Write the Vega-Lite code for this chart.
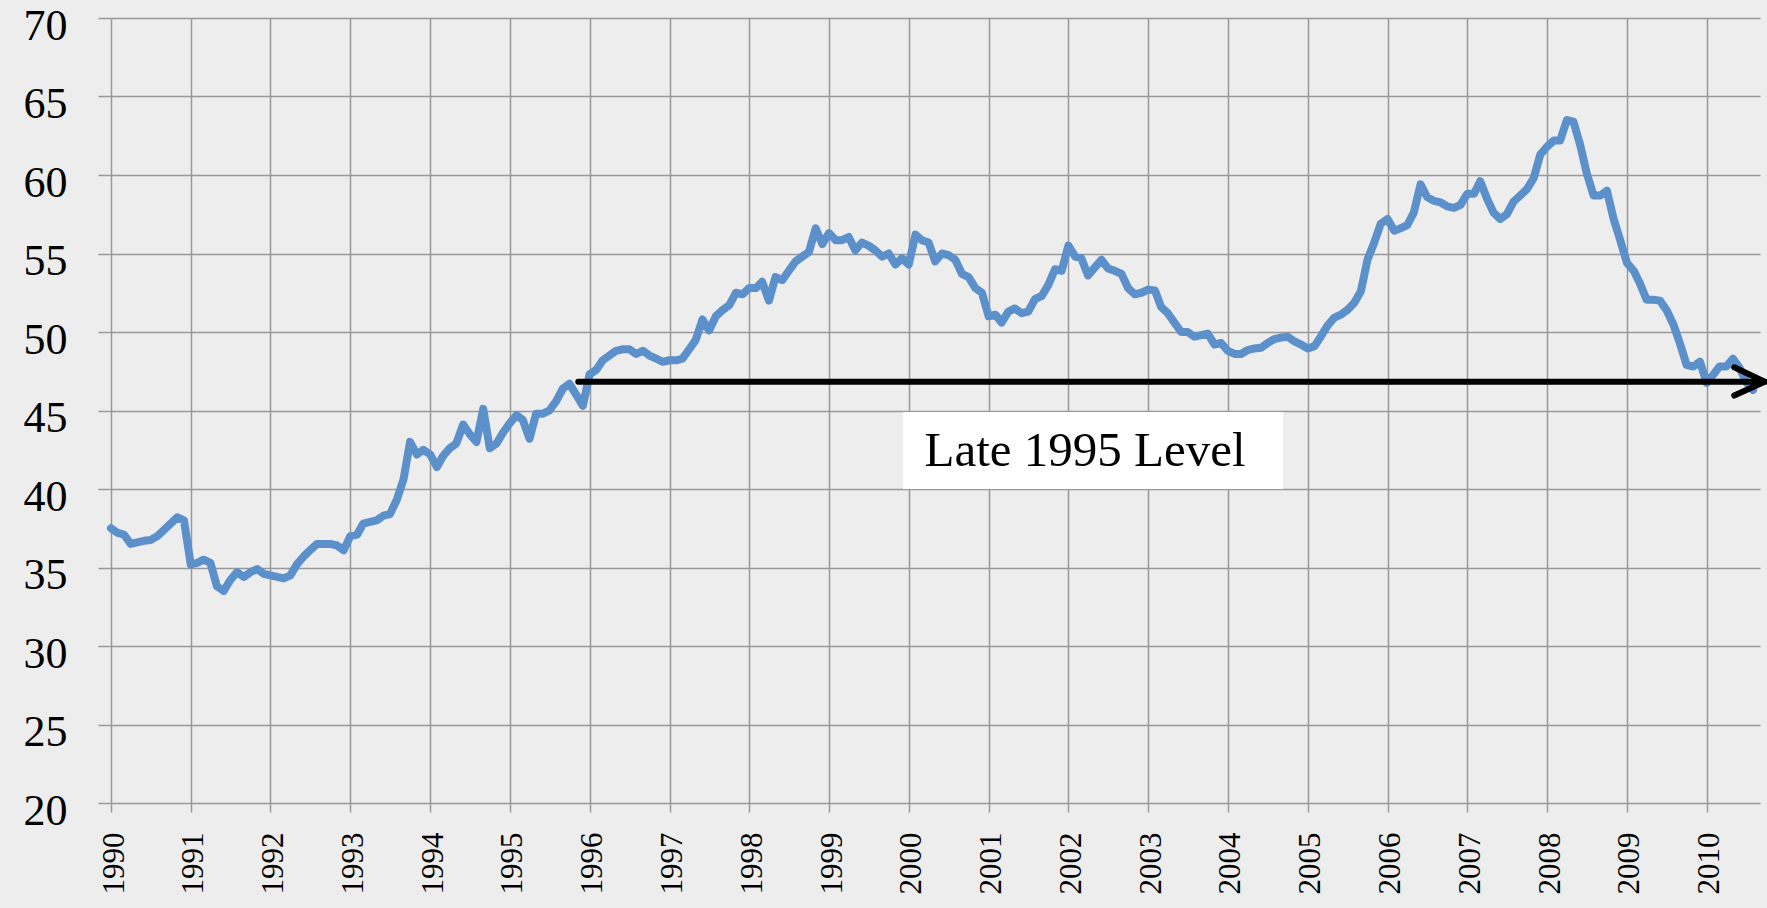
{
  "$schema": "https://vega.github.io/schema/vega-lite/v6.json",
  "autosize": "none",
  "width": 1649,
  "height": 785,
  "padding": {"left": 111, "top": 18, "right": 7, "bottom": 105},
  "background": "#ededed",
  "config": {"view": {"stroke": null}},
  "datasets": {
    "series": [
      {"d":"1990-01","v":37.5},{"d":"1990-02","v":37.2},{"d":"1990-03","v":37.1},{"d":"1990-04","v":36.5},{"d":"1990-05","v":36.6},{"d":"1990-06","v":36.7},{"d":"1990-07","v":36.75},{"d":"1990-08","v":37.0},{"d":"1990-09","v":37.4},{"d":"1990-10","v":37.8},{"d":"1990-11","v":38.2},{"d":"1990-12","v":38.0},
      {"d":"1991-01","v":35.2},{"d":"1991-02","v":35.3},{"d":"1991-03","v":35.5},{"d":"1991-04","v":35.3},{"d":"1991-05","v":33.8},{"d":"1991-06","v":33.5},{"d":"1991-07","v":34.2},{"d":"1991-08","v":34.7},{"d":"1991-09","v":34.4},{"d":"1991-10","v":34.7},{"d":"1991-11","v":34.9},{"d":"1991-12","v":34.6},
      {"d":"1992-01","v":34.5},{"d":"1992-02","v":34.4},{"d":"1992-03","v":34.3},{"d":"1992-04","v":34.5},{"d":"1992-05","v":35.2},{"d":"1992-06","v":35.7},{"d":"1992-07","v":36.1},{"d":"1992-08","v":36.5},{"d":"1992-09","v":36.5},{"d":"1992-10","v":36.5},{"d":"1992-11","v":36.4},{"d":"1992-12","v":36.1},
      {"d":"1993-01","v":37.0},{"d":"1993-02","v":37.1},{"d":"1993-03","v":37.8},{"d":"1993-04","v":37.9},{"d":"1993-05","v":38.0},{"d":"1993-06","v":38.3},{"d":"1993-07","v":38.4},{"d":"1993-08","v":39.3},{"d":"1993-09","v":40.6},{"d":"1993-10","v":43.0},{"d":"1993-11","v":42.2},{"d":"1993-12","v":42.5},
      {"d":"1994-01","v":42.2},{"d":"1994-02","v":41.4},{"d":"1994-03","v":42.1},{"d":"1994-04","v":42.6},{"d":"1994-05","v":42.9},{"d":"1994-06","v":44.1},{"d":"1994-07","v":43.5},{"d":"1994-08","v":43.0},{"d":"1994-09","v":45.1},{"d":"1994-10","v":42.6},{"d":"1994-11","v":42.9},{"d":"1994-12","v":43.6},
      {"d":"1995-01","v":44.2},{"d":"1995-02","v":44.7},{"d":"1995-03","v":44.4},{"d":"1995-04","v":43.2},{"d":"1995-05","v":44.8},{"d":"1995-06","v":44.8},{"d":"1995-07","v":45.0},{"d":"1995-08","v":45.6},{"d":"1995-09","v":46.4},{"d":"1995-10","v":46.7},{"d":"1995-11","v":46.0},{"d":"1995-12","v":45.3},
      {"d":"1996-01","v":47.3},{"d":"1996-02","v":47.6},{"d":"1996-03","v":48.2},{"d":"1996-04","v":48.5},{"d":"1996-05","v":48.8},{"d":"1996-06","v":48.9},{"d":"1996-07","v":48.9},{"d":"1996-08","v":48.6},{"d":"1996-09","v":48.8},{"d":"1996-10","v":48.5},{"d":"1996-11","v":48.3},{"d":"1996-12","v":48.1},
      {"d":"1997-01","v":48.2},{"d":"1997-02","v":48.2},{"d":"1997-03","v":48.3},{"d":"1997-04","v":48.9},{"d":"1997-05","v":49.5},{"d":"1997-06","v":50.8},{"d":"1997-07","v":50.1},{"d":"1997-08","v":51.0},{"d":"1997-09","v":51.4},{"d":"1997-10","v":51.7},{"d":"1997-11","v":52.5},{"d":"1997-12","v":52.4},
      {"d":"1998-01","v":52.8},{"d":"1998-02","v":52.8},{"d":"1998-03","v":53.2},{"d":"1998-04","v":52.0},{"d":"1998-05","v":53.5},{"d":"1998-06","v":53.3},{"d":"1998-07","v":53.9},{"d":"1998-08","v":54.5},{"d":"1998-09","v":54.8},{"d":"1998-10","v":55.1},{"d":"1998-11","v":56.6},{"d":"1998-12","v":55.6},
      {"d":"1999-01","v":56.3},{"d":"1999-02","v":55.85},{"d":"1999-03","v":55.85},{"d":"1999-04","v":56.05},{"d":"1999-05","v":55.2},{"d":"1999-06","v":55.7},{"d":"1999-07","v":55.5},{"d":"1999-08","v":55.2},{"d":"1999-09","v":54.8},{"d":"1999-10","v":55.0},{"d":"1999-11","v":54.3},{"d":"1999-12","v":54.7},
      {"d":"2000-01","v":54.3},{"d":"2000-02","v":56.2},{"d":"2000-03","v":55.85},{"d":"2000-04","v":55.7},{"d":"2000-05","v":54.5},{"d":"2000-06","v":55.0},{"d":"2000-07","v":54.9},{"d":"2000-08","v":54.6},{"d":"2000-09","v":53.7},{"d":"2000-10","v":53.5},{"d":"2000-11","v":52.8},{"d":"2000-12","v":52.5},
      {"d":"2001-01","v":51.0},{"d":"2001-02","v":51.1},{"d":"2001-03","v":50.6},{"d":"2001-04","v":51.3},{"d":"2001-05","v":51.5},{"d":"2001-06","v":51.2},{"d":"2001-07","v":51.3},{"d":"2001-08","v":52.1},{"d":"2001-09","v":52.3},{"d":"2001-10","v":53.0},{"d":"2001-11","v":54.0},{"d":"2001-12","v":53.9},
      {"d":"2002-01","v":55.5},{"d":"2002-02","v":54.8},{"d":"2002-03","v":54.7},{"d":"2002-04","v":53.6},{"d":"2002-05","v":54.1},{"d":"2002-06","v":54.6},{"d":"2002-07","v":54.05},{"d":"2002-08","v":53.9},{"d":"2002-09","v":53.7},{"d":"2002-10","v":52.8},{"d":"2002-11","v":52.4},{"d":"2002-12","v":52.5},
      {"d":"2003-01","v":52.7},{"d":"2003-02","v":52.65},{"d":"2003-03","v":51.6},{"d":"2003-04","v":51.2},{"d":"2003-05","v":50.6},{"d":"2003-06","v":50.0},{"d":"2003-07","v":50.0},{"d":"2003-08","v":49.7},{"d":"2003-09","v":49.8},{"d":"2003-10","v":49.9},{"d":"2003-11","v":49.2},{"d":"2003-12","v":49.3},
      {"d":"2004-01","v":48.8},{"d":"2004-02","v":48.6},{"d":"2004-03","v":48.6},{"d":"2004-04","v":48.85},{"d":"2004-05","v":48.95},{"d":"2004-06","v":49.0},{"d":"2004-07","v":49.3},{"d":"2004-08","v":49.55},{"d":"2004-09","v":49.65},{"d":"2004-10","v":49.7},{"d":"2004-11","v":49.4},{"d":"2004-12","v":49.2},
      {"d":"2005-01","v":48.95},{"d":"2005-02","v":49.1},{"d":"2005-03","v":49.7},{"d":"2005-04","v":50.4},{"d":"2005-05","v":50.9},{"d":"2005-06","v":51.1},{"d":"2005-07","v":51.4},{"d":"2005-08","v":51.85},{"d":"2005-09","v":52.6},{"d":"2005-10","v":54.6},{"d":"2005-11","v":55.7},{"d":"2005-12","v":56.9},
      {"d":"2006-01","v":57.2},{"d":"2006-02","v":56.45},{"d":"2006-03","v":56.6},{"d":"2006-04","v":56.8},{"d":"2006-05","v":57.6},{"d":"2006-06","v":59.4},{"d":"2006-07","v":58.6},{"d":"2006-08","v":58.35},{"d":"2006-09","v":58.25},{"d":"2006-10","v":58.0},{"d":"2006-11","v":57.9},{"d":"2006-12","v":58.1},
      {"d":"2007-01","v":58.8},{"d":"2007-02","v":58.8},{"d":"2007-03","v":59.6},{"d":"2007-04","v":58.5},{"d":"2007-05","v":57.6},{"d":"2007-06","v":57.2},{"d":"2007-07","v":57.5},{"d":"2007-08","v":58.3},{"d":"2007-09","v":58.7},{"d":"2007-10","v":59.1},{"d":"2007-11","v":59.8},{"d":"2007-12","v":61.3},
      {"d":"2008-01","v":61.8},{"d":"2008-02","v":62.2},{"d":"2008-03","v":62.2},{"d":"2008-04","v":63.5},{"d":"2008-05","v":63.4},{"d":"2008-06","v":61.9},{"d":"2008-07","v":60.1},{"d":"2008-08","v":58.7},{"d":"2008-09","v":58.7},{"d":"2008-10","v":59.0},{"d":"2008-11","v":57.2},{"d":"2008-12","v":55.85},
      {"d":"2009-01","v":54.4},{"d":"2009-02","v":53.9},{"d":"2009-03","v":53.1},{"d":"2009-04","v":52.05},{"d":"2009-05","v":52.05},{"d":"2009-06","v":52.0},{"d":"2009-07","v":51.4},{"d":"2009-08","v":50.5},{"d":"2009-09","v":49.25},{"d":"2009-10","v":47.9},{"d":"2009-11","v":47.8},{"d":"2009-12","v":48.1},
      {"d":"2010-01","v":46.75},{"d":"2010-02","v":47.3},{"d":"2010-03","v":47.8},{"d":"2010-04","v":47.8},{"d":"2010-05","v":48.3},{"d":"2010-06","v":47.7},{"d":"2010-07","v":46.8},{"d":"2010-08","v":46.3}
    ],
    "box": [{"d": "1999-12-06", "d2": "2004-09-10", "v": 44.9, "v2": 40.0}],
    "label": [{"d": "2002-03-18", "v": 42.45, "text": "Late 1995 Level"}],
    "arrow": [
      {"g": "shaft", "o": 1, "d": "1995-11-10", "v": 46.83},
      {"g": "shaft", "o": 2, "d": "2010-09-24", "v": 46.83},
      {"g": "head", "o": 1, "d": "2010-05-07", "v": 47.75},
      {"g": "head", "o": 2, "d": "2010-09-24", "v": 46.83},
      {"g": "head", "o": 3, "d": "2010-05-07", "v": 45.95}
    ]
  },
  "layer": [
    {
      "data": {"name": "series"},
      "mark": {"type": "line", "color": "#5b90ca", "strokeWidth": 8, "strokeJoin": "round", "strokeCap": "round", "clip": false},
      "encoding": {
        "x": {
          "field": "d", "type": "temporal", "title": null,
          "scale": {"type": "utc", "domain": [{"year": 1990, "month": 1, "date": 1, "utc": true}, {"year": 2010, "month": 9, "date": 2, "utc": true}]},
          "axis": {
            "values": [
              {"year": 1990, "month": 1, "date": 1, "utc": true},{"year": 1991, "month": 1, "date": 1, "utc": true},{"year": 1992, "month": 1, "date": 1, "utc": true},{"year": 1993, "month": 1, "date": 1, "utc": true},{"year": 1994, "month": 1, "date": 1, "utc": true},{"year": 1995, "month": 1, "date": 1, "utc": true},{"year": 1996, "month": 1, "date": 1, "utc": true},{"year": 1997, "month": 1, "date": 1, "utc": true},{"year": 1998, "month": 1, "date": 1, "utc": true},{"year": 1999, "month": 1, "date": 1, "utc": true},{"year": 2000, "month": 1, "date": 1, "utc": true},{"year": 2001, "month": 1, "date": 1, "utc": true},{"year": 2002, "month": 1, "date": 1, "utc": true},{"year": 2003, "month": 1, "date": 1, "utc": true},{"year": 2004, "month": 1, "date": 1, "utc": true},{"year": 2005, "month": 1, "date": 1, "utc": true},{"year": 2006, "month": 1, "date": 1, "utc": true},{"year": 2007, "month": 1, "date": 1, "utc": true},{"year": 2008, "month": 1, "date": 1, "utc": true},{"year": 2009, "month": 1, "date": 1, "utc": true},{"year": 2010, "month": 1, "date": 1, "utc": true}
            ],
            "format": "%Y",
            "labelAngle": 270,
            "labelFont": "Liberation Serif",
            "labelFontSize": 31,
            "labelColor": "#000000",
            "labelPadding": 20,
            "labelOffset": 3,
            "labelOverlap": false,
            "labelFlush": false,
            "domain": false,
            "grid": true,
            "gridColor": "#999999",
            "gridWidth": 1.5,
            "gridOpacity": 1,
            "ticks": true,
            "tickColor": "#999999",
            "tickWidth": 1.5,
            "tickSize": 9
          }
        },
        "y": {
          "field": "v", "type": "quantitative", "title": null,
          "scale": {"domain": [20, 70], "nice": false, "zero": false},
          "axis": {
            "values": [20, 25, 30, 35, 40, 45, 50, 55, 60, 65, 70],
            "labelFont": "Liberation Serif",
            "labelFontSize": 44,
            "labelColor": "#000000",
            "labelPadding": 31,
            "labelOffset": 8,
            "labelFlush": false,
            "labelOverlap": false,
            "domain": false,
            "grid": true,
            "gridColor": "#999999",
            "gridWidth": 1.5,
            "gridOpacity": 1,
            "ticks": true,
            "tickColor": "#999999",
            "tickWidth": 1.5,
            "tickSize": 13
          }
        }
      }
    },
    {
      "data": {"name": "box"},
      "mark": {"type": "rect", "fill": "#ffffff", "stroke": null},
      "encoding": {
        "x": {"field": "d", "type": "temporal", "title": null, "scale": {"type": "utc", "domain": [{"year": 1990, "month": 1, "date": 1, "utc": true}, {"year": 2010, "month": 9, "date": 2, "utc": true}]}},
        "x2": {"field": "d2"},
        "y": {"field": "v", "type": "quantitative", "title": null, "scale": {"domain": [20, 70], "nice": false, "zero": false}},
        "y2": {"field": "v2"}
      }
    },
    {
      "data": {"name": "label"},
      "mark": {"type": "text", "font": "Liberation Serif", "fontSize": 49, "color": "#000000", "align": "center", "baseline": "middle"},
      "encoding": {
        "x": {"field": "d", "type": "temporal", "title": null, "scale": {"type": "utc", "domain": [{"year": 1990, "month": 1, "date": 1, "utc": true}, {"year": 2010, "month": 9, "date": 2, "utc": true}]}},
        "y": {"field": "v", "type": "quantitative", "title": null, "scale": {"domain": [20, 70], "nice": false, "zero": false}},
        "text": {"field": "text"}
      }
    },
    {
      "data": {"name": "arrow"},
      "mark": {"type": "line", "color": "#000000", "strokeWidth": 6, "strokeCap": "round", "strokeJoin": "miter", "clip": false},
      "encoding": {
        "x": {"field": "d", "type": "temporal", "title": null, "scale": {"type": "utc", "domain": [{"year": 1990, "month": 1, "date": 1, "utc": true}, {"year": 2010, "month": 9, "date": 2, "utc": true}]}},
        "y": {"field": "v", "type": "quantitative", "title": null, "scale": {"domain": [20, 70], "nice": false, "zero": false}},
        "detail": {"field": "g"},
        "order": {"field": "o"}
      }
    }
  ]
}
